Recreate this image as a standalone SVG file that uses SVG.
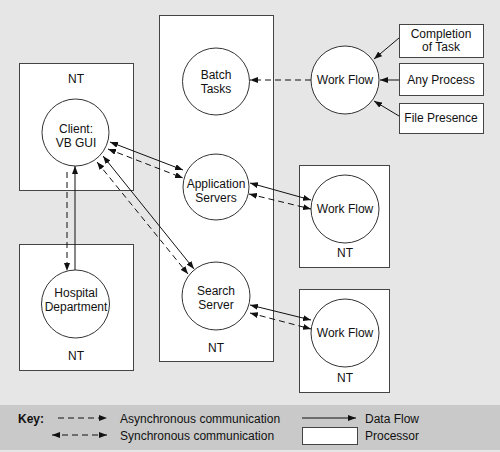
<svg xmlns="http://www.w3.org/2000/svg" width="500" height="452" viewBox="0 0 500 452">
<style>
.box{fill:#fff;stroke:#444;stroke-width:1}
.node{fill:#fff;stroke:#333;stroke-width:1}
.t{font-family:"Liberation Sans",Arial,sans-serif;font-size:12px;fill:#111;text-anchor:middle}
.tl{font-family:"Liberation Sans",Arial,sans-serif;font-size:12px;fill:#111}
.ln{stroke:#111;stroke-width:1;fill:none}
.d{stroke-dasharray:6 4}
.e{marker-end:url(#ah)}
.b{marker-start:url(#ah);marker-end:url(#ah)}
</style>
<defs>
<marker id="ah" markerUnits="userSpaceOnUse" markerWidth="8" markerHeight="6" refX="8" refY="3" orient="auto-start-reverse">
<path d="M0,0 L8,3 L0,6 z" fill="#111"/>
</marker>
</defs>
<rect x="0" y="0" width="500" height="452" fill="#e6e6e6"/>
<rect x="0" y="405" width="500" height="45" fill="#c9c9c9"/>

<g id="nt-client"><rect class="box" x="19.5" y="63.5" width="114" height="127"/><text class="t" x="76" y="83">NT</text></g>
<g id="nt-hospital"><rect class="box" x="19.5" y="244.5" width="114" height="126"/><text class="t" x="76" y="360">NT</text></g>
<g id="nt-central"><rect class="box" x="159.5" y="15.5" width="114" height="346"/><text class="t" x="216" y="352">NT</text></g>
<g id="nt-wf2"><rect class="box" x="299.5" y="165.5" width="90" height="102"/><text class="t" x="345" y="257">NT</text></g>
<g id="nt-wf3"><rect class="box" x="299.5" y="289.5" width="90" height="103"/><text class="t" x="345" y="382">NT</text></g>

<g id="completion"><rect class="box" x="399.5" y="24.5" width="84" height="33"/><text class="t" x="441" y="37.5">Completion</text><text class="t" x="441" y="51">of Task</text></g>
<g id="anyprocess"><rect class="box" x="399.5" y="63.5" width="84" height="32"/><text class="t" x="441" y="84">Any Process</text></g>
<g id="filepresence"><rect class="box" x="399.5" y="103.5" width="84" height="30"/><text class="t" x="441" y="122">File Presence</text></g>

<g id="client"><circle class="node" cx="75.5" cy="132.5" r="33.5"/><text class="t" x="76" y="133">Client:</text><text class="t" x="76" y="146.5">VB GUI</text></g>
<g id="hospital"><circle class="node" cx="75.5" cy="304" r="34"/><text class="t" x="76" y="297">Hospital</text><text class="t" x="76" y="310.5">Department</text></g>
<g id="batch"><circle class="node" cx="216" cy="81.5" r="33.5"/><text class="t" x="216" y="79">Batch</text><text class="t" x="216" y="92.5">Tasks</text></g>
<g id="appservers"><circle class="node" cx="216" cy="187" r="33"/><text class="t" x="216" y="188">Application</text><text class="t" x="216" y="201.5">Servers</text></g>
<g id="search"><circle class="node" cx="216" cy="296" r="34"/><text class="t" x="216" y="295">Search</text><text class="t" x="216" y="308.5">Server</text></g>
<g id="wf1"><circle class="node" cx="345" cy="80" r="34"/><text class="t" x="345" y="84">Work Flow</text></g>
<g id="wf2"><circle class="node" cx="345" cy="209" r="34"/><text class="t" x="345" y="213">Work Flow</text></g>
<g id="wf3"><circle class="node" cx="345" cy="333" r="34"/><text class="t" x="345" y="337">Work Flow</text></g>

<g id="connectors">
<line class="ln d e" x1="311" y1="80" x2="250" y2="80"/>
<line class="ln e" x1="399" y1="38" x2="374" y2="59"/>
<line class="ln e" x1="399" y1="80" x2="380" y2="80"/>
<line class="ln e" x1="399" y1="116" x2="374" y2="101"/>
<line class="ln b" x1="110" y1="142" x2="183" y2="170"/>
<line class="ln d b" x1="108" y1="149" x2="183" y2="178"/>
<line class="ln b" x1="103" y1="156" x2="194" y2="269"/>
<line class="ln d b" x1="97" y1="162" x2="188" y2="274"/>
<line class="ln d e" x1="67" y1="172" x2="67" y2="271"/>
<line class="ln e" x1="75" y1="270" x2="75" y2="166"/>
<line class="ln b" x1="250" y1="183" x2="311" y2="200"/>
<line class="ln d b" x1="249" y1="194" x2="311" y2="209"/>
<line class="ln b" x1="250" y1="305" x2="311" y2="320"/>
<line class="ln d b" x1="250" y1="313" x2="311" y2="329"/>
</g>

<g id="key">
<text class="tl" x="18" y="423" font-weight="bold">Key:</text>
<line class="ln d e" x1="58" y1="418" x2="107" y2="418"/>
<text class="tl" x="120" y="423">Asynchronous communication</text>
<line class="ln d b" x1="52" y1="435" x2="107" y2="435"/>
<text class="tl" x="120" y="440">Synchronous communication</text>
<line class="ln e" x1="302" y1="418" x2="356" y2="418"/>
<text class="tl" x="365" y="423">Data Flow</text>
<rect class="box" x="302.5" y="427.5" width="55" height="17"/>
<text class="tl" x="365" y="440">Processor</text>
</g>
</svg>
